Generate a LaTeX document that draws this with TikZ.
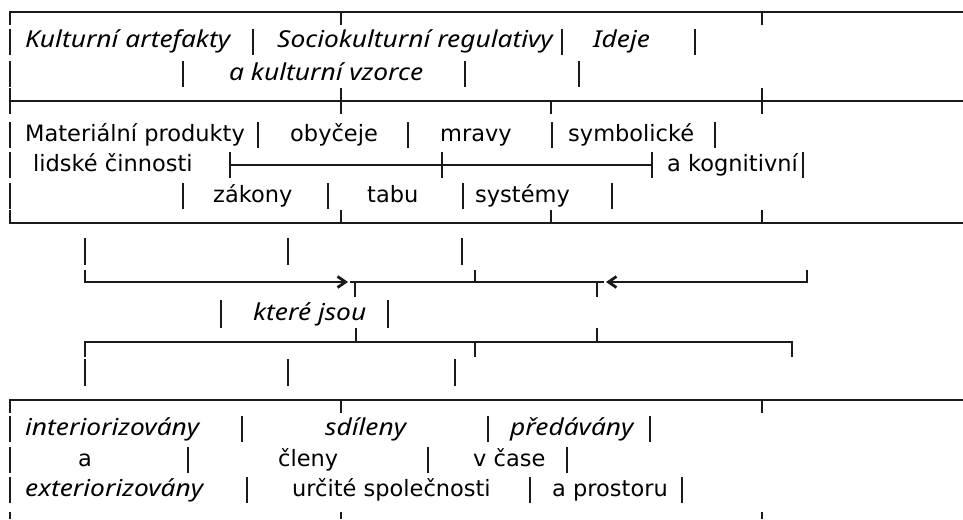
\documentclass[tikz,border=0pt]{standalone}
\usepackage{fontspec}
\setmainfont{DejaVu Sans}
\newfontfamily\itf{Noto Sans}[FakeStretch=1.13]
\usetikzlibrary{arrows.meta}
\definecolor{ink}{HTML}{1A1A1A}
\tikzset{
  rt/.style={anchor=base west, inner sep=0pt, font=\fontsize{22.5}{27}\selectfont},
  itx/.style={anchor=base west, inner sep=0pt, font=\itf\itshape\fontsize{23.3}{27}\selectfont},
  vb/.style={draw=ink, line width=1.6pt},
  hl/.style={draw=ink, line width=1.4pt},
  chev/.style={-{Straight Barb[length=8pt,width=11pt,line width=2.8pt]}},
  chevr/.style={{Straight Barb[length=8pt,width=11pt,line width=2.8pt]}-},
}
\newcommand\colbar[2]{\draw[vb] (#1,#2-19) -- (#1,#2+7);}
\begin{document}
\begin{tikzpicture}[x=1pt,y=-1pt]
\useasboundingbox (0,0) rectangle (963,519);
\fill[white] (0,0) rectangle (963,519);

% ---------- box 1 ----------
\draw[hl] (10,25) -- (10,12) -- (963,12);
\draw[vb] (341,12) -- (341,25);
\draw[vb] (762,12) -- (762,25);
% row 1
\foreach \x in {10,253,562,695} {\colbar{\x}{48}}
\node[itx] (t1a) at (25,48) {Kulturní artefakty};
\node[itx] (t1b) at (277,48) {Sociokulturní regulativy};
\node[itx] (t1c) at (593,48) {Ideje};
% row 2
\foreach \x in {10,183,465,579} {\colbar{\x}{80}}
\node[itx] (t1d) at (229,80) {a kulturní vzorce};
% divider
\draw[vb] (10,88) -- (10,114);
\draw[hl] (10,101) -- (963,101);
\draw[vb] (341,88) -- (341,114);
\draw[vb] (551,101) -- (551,114);
\draw[vb] (762,88) -- (762,114);

% ---------- box 2 ----------
\foreach \x in {10,258,408,552,715} {\colbar{\x}{141}}
\node[rt] (t2a) at (25,141) {Materiální produkty};
\node[rt] (t2b) at (290,141) {obyčeje};
\node[rt] (t2c) at (440,141) {mravy};
\node[rt] (t2d) at (568,141) {symbolické};
\foreach \x in {10,230,442,652,803} {\colbar{\x}{171}}
\draw[hl] (230,165) -- (652,165);
\node[rt] (t2e) at (33,171) {lidské činnosti};
\node[rt] (t2f) at (667,171) {a kognitivní};
\foreach \x in {10,183,328,463,612} {\colbar{\x}{202}}
\node[rt] (t2g) at (213,202) {zákony};
\node[rt] (t2h) at (367,202) {tabu};
\node[rt] (t2i) at (475,202) {systémy};
\draw[hl] (10,210) -- (10,223) -- (963,223);
\draw[vb] (341,210) -- (341,223);
\draw[vb] (551,210) -- (551,223);
\draw[vb] (762,210) -- (762,223);

% ---------- middle ----------
\foreach \x in {85,288,462} {\draw[vb] (\x,238) -- (\x,265);}
\coordinate (aL) at (85,270);
\coordinate (aLc) at (85,282);
\coordinate (aT) at (348,282);
\coordinate (aM1) at (350,282);
\coordinate (aM2) at (604,282);
\coordinate (aT2) at (606,282);
\coordinate (aRc) at (807,282);
\coordinate (aR) at (807,270);
\draw[hl,chev] (aL) -- (aLc) -- (aT);
\draw[hl] (aM1) -- (aM2);
\draw[hl,chevr] (aT2) -- (aRc) -- (aR);
\draw[vb] (355,282) -- (355,297);
\draw[vb] (475,270) -- (475,282);
\draw[vb] (597,282) -- (597,297);
\draw[vb] (221,300) -- (221,328);
\draw[vb] (388,300) -- (388,328);
\node[itx] (t3) at (253,320) {které jsou};
\draw[hl] (85,357) -- (85,342) -- (792,342) -- (792,357);
\draw[vb] (356,328) -- (356,342);
\draw[vb] (475,342) -- (475,357);
\draw[vb] (597,328) -- (597,342);
\foreach \x in {85,288,455} {\draw[vb] (\x,359) -- (\x,386);}

% ---------- box 4 ----------
\draw[hl] (10,413) -- (10,400) -- (963,400);
\draw[vb] (341,400) -- (341,413);
\draw[vb] (762,400) -- (762,413);
\foreach \x in {10,242,488,650} {\colbar{\x}{435}}
\node[itx] (t4a) at (25,435) {interiorizovány};
\node[itx] (t4b) at (325,435) {sdíleny};
\node[itx] (t4c) at (510,435) {předávány};
\foreach \x in {10,188,428,567} {\colbar{\x}{466}}
\node[rt] (t4d) at (78,466) {a};
\node[rt] (t4e) at (278,466) {členy};
\node[rt] (t4f) at (473,466) {v čase};
\foreach \x in {10,247,530,682} {\colbar{\x}{496}}
\node[itx] (t4g) at (25,496) {exteriorizovány};
\node[rt] (t4h) at (292,496) {určité společnosti};
\node[rt] (t4i) at (552,496) {a prostoru};
\draw[vb] (10,512) -- (10,519);
\draw[vb] (341,512) -- (341,519);
\draw[vb] (762,512) -- (762,519);
\end{tikzpicture}
\end{document}
